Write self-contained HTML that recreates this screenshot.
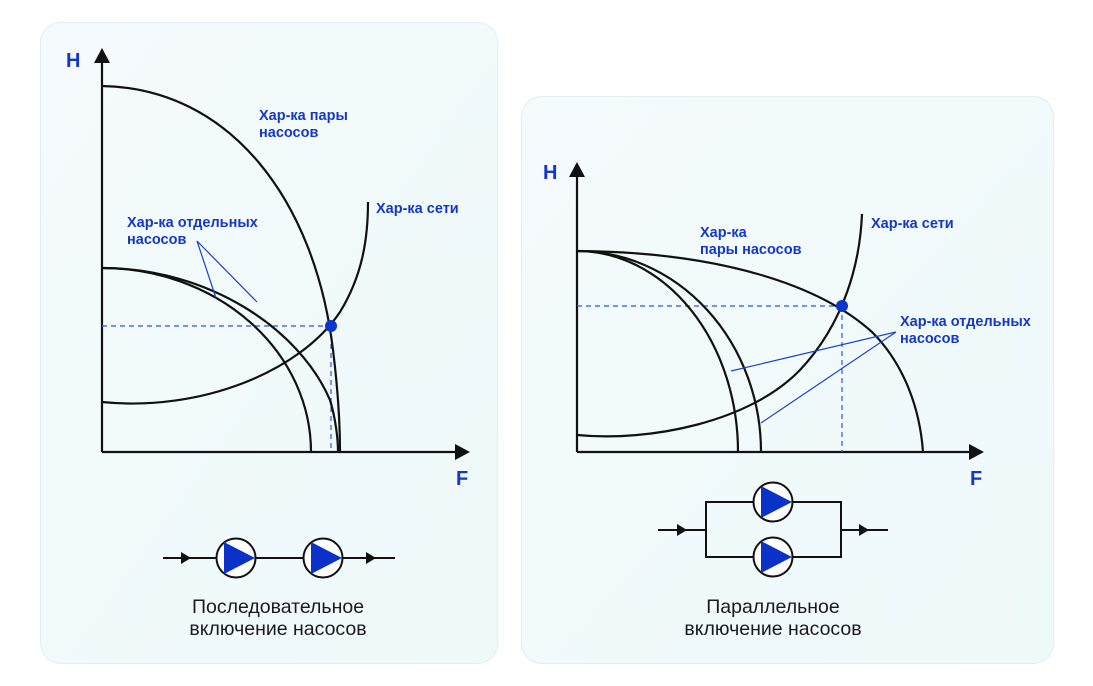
<!DOCTYPE html>
<html><head><meta charset="utf-8"><style>
html,body{margin:0;padding:0;background:#fff;width:1093px;height:686px;overflow:hidden}
svg{display:block}
.lb{font-family:"Liberation Sans",sans-serif;font-weight:bold;font-size:14.5px;fill:#1537c8}
.ax{font-family:"Liberation Sans",sans-serif;font-weight:bold;font-size:20px;fill:#1537c8}
.cap{font-family:"Liberation Sans",sans-serif;font-size:19.5px;fill:#1a1a22;text-anchor:middle}
.c{fill:none;stroke:#111;stroke-width:2.2}
.d{stroke:#2f55e0;stroke-width:1.2;stroke-dasharray:5,4;fill:none}
.l{stroke:#1a3fd0;stroke-width:1.2;fill:none}
</style></head><body>
<svg width="1093" height="686" viewBox="0 0 1093 686">
<defs><linearGradient id="g" x1="0" y1="0" x2="1" y2="1"><stop offset="0" stop-color="#f5fafd"/><stop offset="1" stop-color="#eef9fa"/></linearGradient></defs>
<rect x="40.5" y="22.5" width="457" height="641" rx="20" fill="url(#g)" stroke="#e2eff2"/>
<rect x="521.5" y="96.5" width="532" height="567" rx="20" fill="url(#g)" stroke="#e2eff2"/>

<!-- LEFT -->
<line x1="102" y1="452" x2="102" y2="60" class="c"/>
<polygon points="94,63 110,63 102,48" fill="#111"/>
<line x1="102" y1="452" x2="458" y2="452" class="c"/>
<polygon points="455,444 455,460 470,452" fill="#111"/>
<text x="66" y="67" class="ax">H</text>
<text x="456" y="485" class="ax">F</text>
<line x1="102" y1="326" x2="331" y2="326" class="d"/>
<line x1="331" y1="326" x2="331" y2="452" class="d"/>
<path d="M102,86 C230,88 315,200 333,350 C338,390 340,420 340,452" class="c"/>
<path d="M102,268 A209,184 0 0 1 311,452" class="c"/>
<path d="M102,268 C210,268 300,330 330,400 C336,420 338,440 338,452" class="c"/>
<path d="M102,402 C200,412 300,372 340,312 C362,276 368,240 368,202" class="c"/>
<circle cx="331" cy="326" r="6" fill="#0a36d0"/>
<path d="M197,241 L216,298 M197,241 L257,302" class="l"/>
<text x="259" y="120" class="lb">Хар-ка пары</text>
<text x="259" y="137" class="lb">насосов</text>
<text x="376" y="213" class="lb">Хар-ка сети</text>
<text x="127" y="227" class="lb">Хар-ка отдельных</text>
<text x="127" y="244" class="lb">насосов</text>

<line x1="163" y1="558" x2="395" y2="558" stroke="#111" stroke-width="2"/>
<polygon points="181,552 181,564 191,558" fill="#111"/>
<polygon points="366,552 366,564 376,558" fill="#111"/>
<g stroke="#111" stroke-width="2" fill="#fff"><circle cx="236" cy="558" r="19.5"/><circle cx="323" cy="558" r="19.5"/></g>
<polygon points="224,542 224,574 255,558" fill="#0a32c8"/>
<polygon points="311,542 311,574 342,558" fill="#0a32c8"/>
<text x="278" y="613" class="cap">Последовательное</text>
<text x="278" y="635" class="cap">включение насосов</text>

<!-- RIGHT -->
<line x1="577" y1="452" x2="577" y2="175" class="c"/>
<polygon points="569,177 585,177 577,162" fill="#111"/>
<line x1="577" y1="452" x2="972" y2="452" class="c"/>
<polygon points="969,444 969,460 984,452" fill="#111"/>
<text x="543" y="179" class="ax">H</text>
<text x="970" y="485" class="ax">F</text>
<line x1="577" y1="306" x2="842" y2="306" class="d"/>
<line x1="842" y1="306" x2="842" y2="452" class="d"/>
<path d="M577,251 C720,252 820,285 872,332 C905,365 920,410 923,452" class="c"/>
<path d="M577,251 A161,201 0 0 1 738,452" class="c"/>
<path d="M577,251 A184,201 0 0 1 761,452" class="c"/>
<path d="M577,435 C650,442 750,422 800,370 C845,322 860,262 862,214" class="c"/>
<circle cx="842" cy="306" r="6" fill="#0a36d0"/>
<path d="M896,332 L731,371 M896,332 L761,423" class="l"/>
<text x="700" y="237" class="lb">Хар-ка</text>
<text x="700" y="254" class="lb">пары насосов</text>
<text x="871" y="228" class="lb">Хар-ка сети</text>
<text x="900" y="326" class="lb">Хар-ка отдельных</text>
<text x="900" y="343" class="lb">насосов</text>

<g stroke="#111" stroke-width="2" fill="none">
<line x1="658" y1="530" x2="706" y2="530"/>
<rect x="706" y="502" width="135" height="55"/>
<line x1="841" y1="530" x2="888" y2="530"/>
</g>
<polygon points="677,524 677,536 687,530" fill="#111"/>
<polygon points="859,524 859,536 869,530" fill="#111"/>
<g stroke="#111" stroke-width="2" fill="#fff"><circle cx="773" cy="502" r="19.5"/><circle cx="773" cy="557" r="19.5"/></g>
<polygon points="761,486 761,518 792,502" fill="#0a32c8"/>
<polygon points="761,541 761,573 792,557" fill="#0a32c8"/>
<text x="773" y="613" class="cap">Параллельное</text>
<text x="773" y="635" class="cap">включение насосов</text>
</svg>
</body></html>
